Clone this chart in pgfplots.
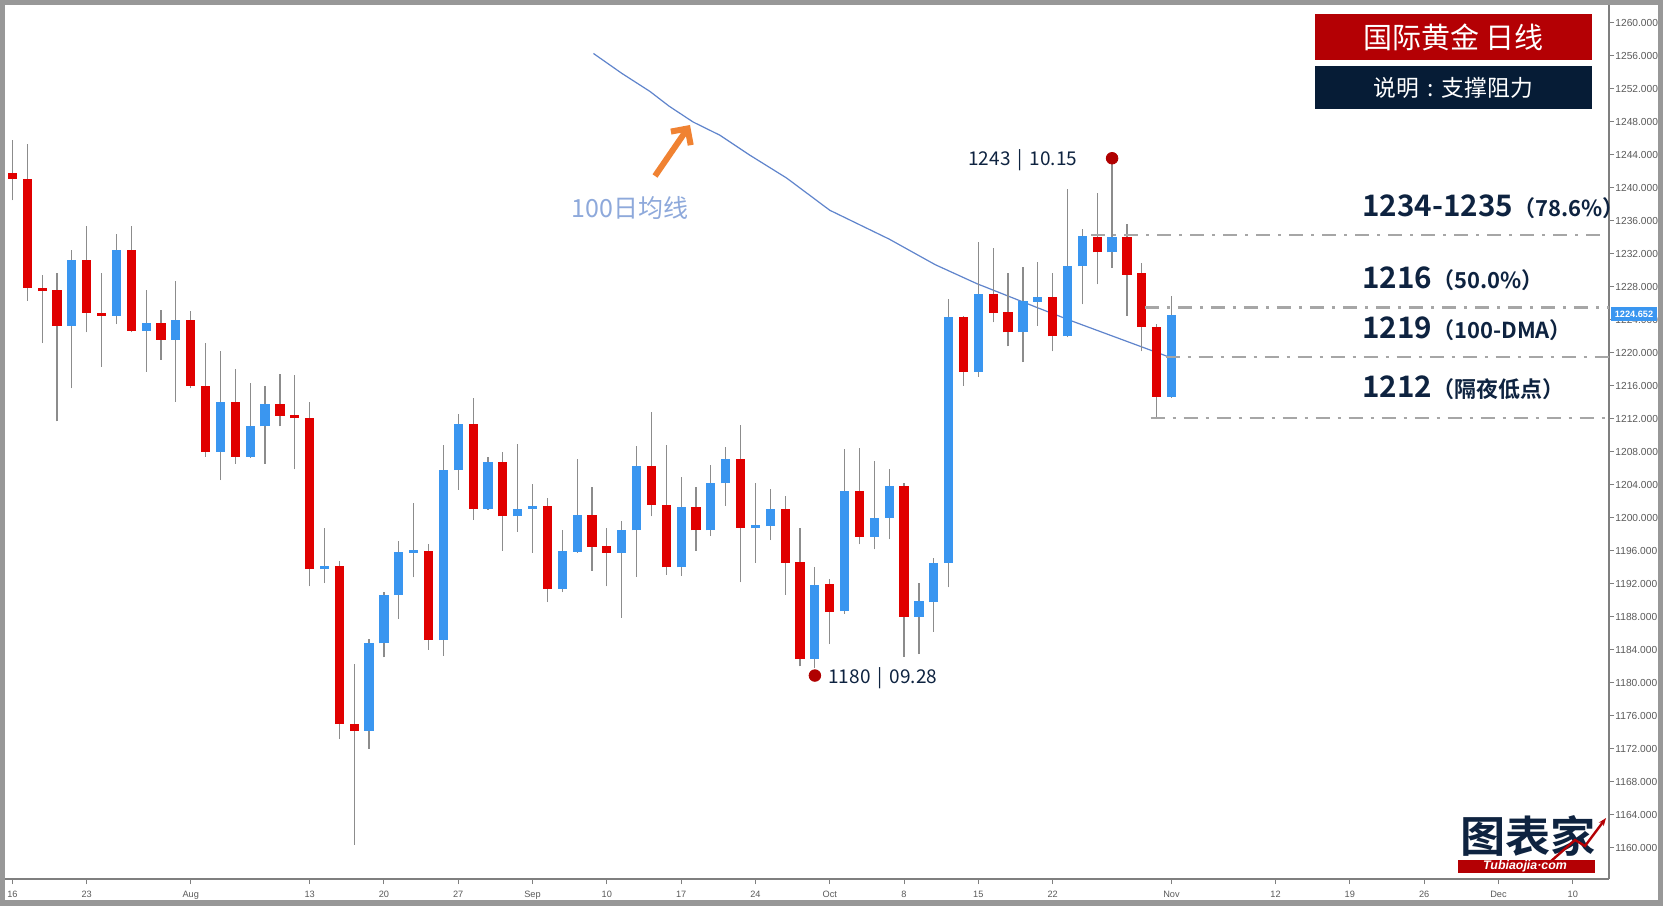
\documentclass[border=0pt]{standalone}
\usepackage{fontspec}
\usepackage{pgfplots}
\pgfplotsset{compat=1.18}
\usepackage{pgfplotstable}
\usetikzlibrary{arrows.meta}
\setmainfont{Liberation Sans}
\newfontfamily\lib{Liberation Sans}
\newfontfamily\cjk{Noto Sans CJK SC}[BoldFont={Noto Sans CJK SC Bold}]

\definecolor{cred}{HTML}{E00000}
\definecolor{cblue}{HTML}{3A96F0}
\definecolor{wick}{HTML}{8C8C8C}
\definecolor{ma}{HTML}{5F84CC}
\definecolor{lvl}{HTML}{A6A6A6}
\definecolor{titlered}{HTML}{B40004}
\definecolor{navy}{HTML}{061C36}
\definecolor{navytext}{HTML}{0E2340}
\definecolor{malabel}{HTML}{8EA9DB}
\definecolor{arroworange}{HTML}{F08232}
\definecolor{axisgray}{HTML}{7F7F7F}
\definecolor{ticktext}{HTML}{5A5A5A}
\definecolor{dotred}{HTML}{B00000}

\pgfplotstableread{
i o h l c
0 1241.8 1245.8 1238.5 1241.1
1 1241.1 1245.3 1226.3 1227.9
2 1227.9 1229.5 1221.2 1227.5
3 1227.6 1229.7 1211.7 1223.3
5 1231.3 1235.4 1222.5 1224.9
6 1224.9 1229.7 1218.3 1224.5
8 1232.5 1235.4 1222.5 1222.7
10 1223.6 1225.2 1219.2 1221.6
12 1224.0 1225.1 1215.7 1216.0
13 1216.0 1221.2 1207.4 1208.0
15 1214.0 1218.1 1206.6 1207.4
18 1213.8 1217.5 1211.1 1212.4
19 1212.5 1217.3 1205.9 1212.1
20 1212.1 1214.1 1191.7 1193.8
22 1194.2 1194.8 1173.2 1175.0
23 1175.0 1182.3 1160.4 1174.2
28 1196.0 1196.8 1184.0 1185.2
31 1211.4 1214.5 1199.8 1201.1
33 1206.8 1208.0 1196.0 1200.2
36 1201.5 1202.4 1189.8 1191.4
39 1200.3 1203.7 1193.6 1196.5
40 1196.6 1198.8 1191.7 1195.8
43 1206.3 1212.9 1200.2 1201.6
44 1201.6 1208.8 1193.1 1194.0
46 1201.3 1203.8 1196.0 1198.5
49 1207.2 1211.3 1192.2 1198.8
52 1201.1 1202.7 1190.7 1194.6
53 1194.7 1198.8 1182.0 1182.9
55 1192.0 1192.6 1184.7 1188.6
57 1203.3 1208.5 1196.8 1197.7
60 1203.9 1204.2 1183.2 1188.0
64 1224.4 1224.5 1216.0 1217.7
66 1227.2 1232.7 1223.7 1224.9
67 1225.0 1229.7 1220.8 1222.5
70 1226.8 1229.7 1220.2 1222.0
73 1234.1 1239.4 1228.3 1232.2
75 1234.0 1235.6 1224.5 1229.5
76 1229.7 1230.9 1220.2 1223.2
77 1223.2 1223.5 1212.2 1214.7
}\redtab

\pgfplotstableread{
i o h l c
4 1223.3 1232.5 1215.7 1231.3
7 1224.5 1234.4 1223.5 1232.5
9 1222.7 1227.6 1217.7 1223.6
11 1221.6 1228.7 1214.1 1224.0
14 1208.0 1220.2 1204.6 1214.0
16 1207.4 1216.3 1207.3 1211.1
17 1211.1 1216.0 1206.6 1213.8
21 1193.8 1198.8 1192.1 1194.2
24 1174.2 1185.3 1172.0 1184.8
25 1184.8 1191.0 1183.1 1190.7
26 1190.7 1197.2 1187.8 1195.9
27 1195.8 1201.8 1192.8 1196.1
29 1185.2 1208.8 1183.3 1205.8
30 1205.8 1212.6 1203.4 1211.4
32 1201.1 1207.4 1201.0 1206.8
34 1200.2 1209.0 1198.3 1201.1
35 1201.1 1204.1 1195.8 1201.5
37 1191.4 1198.6 1191.0 1196.0
38 1195.9 1207.2 1195.8 1200.3
41 1195.8 1199.6 1187.9 1198.5
42 1198.5 1208.7 1192.9 1206.3
45 1194.0 1205.0 1193.0 1201.3
47 1198.5 1206.4 1197.8 1204.2
48 1204.2 1208.6 1201.5 1207.2
50 1198.75 1204.2 1194.6 1199.1
51 1199.0 1203.5 1197.3 1201.1
54 1182.9 1194.1 1181.8 1191.9
56 1188.7 1208.4 1188.4 1203.3
58 1197.7 1206.9 1196.2 1200.0
59 1200.0 1205.9 1197.4 1203.9
61 1188.0 1192.1 1183.5 1189.9
62 1189.8 1195.2 1186.2 1194.6
63 1194.6 1226.5 1191.6 1224.4
65 1217.7 1233.4 1217.1 1227.2
68 1222.5 1230.4 1218.9 1226.3
69 1226.2 1231.0 1223.3 1226.8
71 1222.0 1239.9 1221.9 1230.5
72 1230.5 1235.0 1225.9 1234.2
74 1232.2 1243.0 1230.3 1234.0
78 1214.7 1226.9 1214.6 1224.65
}\bluetab

\begin{document}
\begin{tikzpicture}
\fill[white] (0,0) rectangle (831.5pt,452.5pt);
\begin{axis}[
  at={(2.5pt,13pt)}, anchor=south west,
  scale only axis, width=802pt, height=438pt,
  xmin=-0.5, xmax=107.44, ymin=1156.24, ymax=1262.42,
  axis x line*=bottom, axis y line*=right,
  axis line style={draw=axisgray, line width=0.9pt, -},
  xtick={0,5,12,20,25,30,35,40,45,50,55,60,65,70,78,85,90,95,100,105},
  xticklabels={16,23,Aug,13,20,27,Sep,10,17,24,Oct,8,15,22,Nov,12,19,26,Dec,10},
  ytick={1160,1164,...,1260},
  tick align=outside, major tick length=2.5pt,
  tick style={draw=axisgray, line width=0.5pt},
  /pgf/number format/assume math mode=true,
  /pgf/number format/1000 sep={},
  yticklabel style={anchor=west, inner sep=0.5pt, font=\lib\fontsize{5.1}{6}\selectfont, text=ticktext,
    /pgf/number format/fixed, /pgf/number format/fixed zerofill, /pgf/number format/precision=3},
  xticklabel style={font=\lib\fontsize{4.6}{5.5}\selectfont, text=ticktext},
]
% moving average
\addplot[color=ma, line width=0.6pt] coordinates {
(39.1,1256.3) (41.0,1253.9) (42.9,1251.7) (44.2,1249.9) (45.8,1248.0) (47.6,1246.4)
(49.6,1244.0) (52.1,1241.2) (55.0,1237.3) (59.0,1233.8) (62.1,1230.7) (64.9,1228.4)
(69.1,1225.4) (71.4,1223.8) (75.9,1220.8) (78,1219.4)};
% wicks
\addplot[draw=none, mark=none, error bars/.cd, y dir=plus, y explicit, error mark=none,
  error bar style={draw=wick, line width=0.6pt}]
  table[x=i, y=l, y error expr=\thisrow{h}-\thisrow{l}] {\redtab};
\addplot[draw=none, mark=none, error bars/.cd, y dir=plus, y explicit, error mark=none,
  error bar style={draw=wick, line width=0.6pt}]
  table[x=i, y=l, y error expr=\thisrow{h}-\thisrow{l}] {\bluetab};
% bodies
\addplot[draw=none, mark=none, error bars/.cd, y dir=plus, y explicit, error mark=none,
  error bar style={draw=cred, line width=4.6pt}]
  table[x=i, y expr={min(\thisrow{o},\thisrow{c})}, y error expr={abs(\thisrow{o}-\thisrow{c})}] {\redtab};
\addplot[draw=none, mark=none, error bars/.cd, y dir=plus, y explicit, error mark=none,
  error bar style={draw=cblue, line width=4.6pt}]
  table[x=i, y expr={min(\thisrow{o},\thisrow{c})}, y error expr={abs(\thisrow{o}-\thisrow{c})}] {\bluetab};
% level lines
\addplot[lvl, line width=1.3pt, dash pattern=on 7pt off 4pt on 1.5pt off 4pt] coordinates {(72.6,1234.3) (107.2,1234.3)};
\addplot[lvl, line width=1.3pt, dash pattern=on 7pt off 4pt on 1.5pt off 4pt] coordinates {(76.2,1225.5) (107.44,1225.5)};
\addplot[lvl, line width=1.3pt, dash pattern=on 7pt off 4pt on 1.5pt off 4pt] coordinates {(77.6,1219.5) (107.44,1219.5)};
\addplot[lvl, line width=1.3pt, dash pattern=on 7pt off 4pt on 1.5pt off 4pt] coordinates {(76.6,1212.1) (107.2,1212.1)};
% high / low dots
\addplot[only marks, mark=*, mark size=2.9pt, color=dotred] coordinates {(74,1243.6) (54,1180.9)};
\end{axis}

\begin{scope}[shift={(0pt,452.5pt)}, x=0.5pt, y=-0.5pt]
% price label on axis
\fill[cblue] (1611,307) rectangle (1657,321);
\node[text=white, inner sep=0, font=\lib\bfseries\fontsize{4.6}{5}\selectfont] at (1634,314) {1224.652};
% title boxes
\fill[titlered] (1315,14) rectangle (1592,60);
\node[text=white, inner sep=0, font=\cjk\fontsize{14.5}{16}\selectfont] at (1453.5,37.5) {国际黄金 日线};
\fill[navy] (1315,66) rectangle (1592,109);
\node[text=white, inner sep=0, font=\cjk\fontsize{11.4}{13}\selectfont] at (1453.5,87.5) {说明\hspace{0.35em}:\hspace{0.35em}支撑阻力};
% level annotations
\node[anchor=base west, inner sep=0, text=navytext] at (1362,216.5)
  {\cjk\bfseries\fontsize{14.8}{18}\selectfont 1234-1235\fontsize{11}{14}\selectfont （78.6\%）};
\node[anchor=base west, inner sep=0, text=navytext] at (1362,288.5)
  {\cjk\bfseries\fontsize{14.8}{18}\selectfont 1216\fontsize{11}{14}\selectfont （50.0\%）};
\node[anchor=base west, inner sep=0, text=navytext] at (1362,338.5)
  {\cjk\bfseries\fontsize{14.8}{18}\selectfont 1219\fontsize{11}{14}\selectfont （100-DMA）};
\node[anchor=base west, inner sep=0, text=navytext] at (1362,397.5)
  {\cjk\bfseries\fontsize{14.8}{18}\selectfont 1212\fontsize{11}{14}\selectfont （隔夜低点）};
% high / low labels
\node[anchor=base west, inner sep=0, text=navytext, font=\cjk\fontsize{9.5}{11}\selectfont] at (968,166) {1243\hspace{3.5pt}|\hspace{3.5pt}10.15};
\node[anchor=base west, inner sep=0, text=navytext, font=\cjk\fontsize{9.5}{11}\selectfont] at (828,683) {1180\hspace{3.5pt}|\hspace{3.5pt}09.28};
% MA label and arrow
\node[anchor=west, inner sep=0, text=malabel, font=\cjk\fontsize{12.5}{14}\selectfont] at (571,208) {100日均线};
\draw[arroworange, line width=3pt, -{Straight Barb[length=6pt, width=12pt, line width=3pt]}] (655,176) -- (690,125);
% logo
\node[text=navytext, inner sep=0, xscale=1.05, font=\cjk\bfseries\fontsize{21.5}{23}\selectfont] at (1528,836) {图表家};
\fill[titlered] (1458,860) rectangle (1595,873);
\node[text=white, inner sep=0, font=\lib\bfseries\itshape\fontsize{6.2}{7}\selectfont] at (1525,866.5) {Tubiaojia·com};
\draw[titlered, line width=1.2pt, -{Stealth[length=4pt]}] (1550,862) -- (1575,840) -- (1585,846) -- (1606,818);
% outer frame
\draw[axisgray!80, line width=3.5pt] (1.75,1.75) rectangle (1661.25,903.25);
\pgfresetboundingbox
\path[use as bounding box] (0,0) rectangle (1663,905);
\end{scope}
\end{tikzpicture}
\end{document}
